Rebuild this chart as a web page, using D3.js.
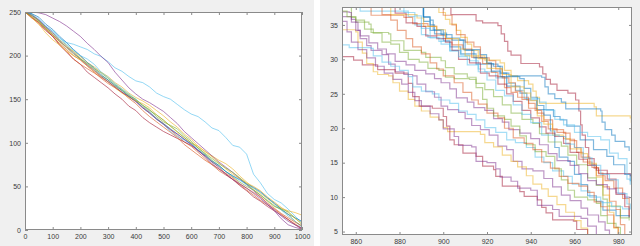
<!DOCTYPE html>
<html>
<head>
<meta charset="utf-8">
<script src="https://cdn.jsdelivr.net/npm/d3@7"></script>
<style>
	body { margin: 0; background: #fff; }
	svg { display: block; font-family: "Liberation Sans", Arial, sans-serif; }
</style>
</head>
<body>
<div id="chart"></div>
<script>
// MATLAB default line colours
const blue = "#0072BD", orange = "#D95319", yellow = "#EDB120", purple = "#7E2F8E",
	green = "#77AC30", lightBlue = "#4DBEEE", red = "#A2142F";

// ---- left panel: full run, value read every 25 steps ----
const leftX = [0, 25, 50, 75, 100, 125, 150, 175, 200, 225, 250, 275, 300, 325, 350, 375, 400, 425, 450, 475,
	500, 525, 550, 575, 600, 625, 650, 675, 700, 725, 750, 775, 800, 825, 850, 875, 900, 925, 950, 975, 1000];
const leftXTicks = [0, 100, 200, 300, 400, 500, 600, 700, 800, 900, 1000];
const leftYTicks = [0, 50, 100, 150, 200, 250];

const runBlueHigh = [250,248,240,233,228,220,215,213,210,207,202,199,193,186,182,176,171,169,164,157,153,150,144,138,133,130,124,117,114,106,97,95,87,64,54,42,35,31,24,16,8];
const runOrange1 = [250,244,236,229,222,214,207,200,195,188,181,174,168,163,158,153,148,141,135,128,122,115,108,101,96,89,82,75,68,63,58,52,46,40,34,29,24,18,12,7,2];
const runYellow1 = [250,247,240,231,224,216,210,205,199,192,187,181,176,169,164,157,152,148,143,137,131,124,118,110,104,96,90,85,80,76,70,62,55,48,42,36,30,25,22,20,17];
const runPurpleHigh = [250,250,249,247,243,239,234,228,222,214,207,199,192,181,172,163,156,150,146,141,136,129,122,113,106,99,92,85,78,72,66,59,52,45,38,30,22,13,6,3,1];
const runGreen1 = [250,246,240,232,226,218,212,204,197,190,184,177,172,165,160,154,150,143,138,130,124,120,116,108,102,94,87,80,74,67,61,55,50,46,40,34,28,23,18,10,4];
const runLightBlue1 = [250,247,242,234,228,220,213,206,200,196,190,181,175,168,162,156,150,142,136,128,121,113,107,103,98,91,85,78,73,67,62,57,52,48,43,37,30,23,16,10,3];
const runRedLow = [250,243,238,229,222,212,204,196,190,181,175,169,163,156,150,142,137,129,123,118,113,109,105,101,97,91,85,78,72,64,58,51,45,38,33,27,22,17,12,6,1];
const runBlue2 = [250,248,244,236,230,222,215,207,200,192,186,178,172,166,160,153,148,140,134,127,122,116,110,104,99,92,86,79,74,67,62,58,53,49,44,37,31,24,18,14,10];
const runOrange2 = [250,244,238,231,223,213,205,196,190,185,180,175,170,164,158,151,145,137,130,124,118,112,106,98,92,86,80,75,70,65,60,53,48,43,38,31,25,19,14,9,5];
const runYellow2 = [250,243,236,226,218,212,205,200,195,188,182,176,170,163,157,152,148,145,140,132,126,119,112,106,100,96,90,84,77,70,64,59,54,50,45,38,32,26,20,13,8];
const runPurple2 = [250,246,241,233,226,217,210,203,196,189,183,176,170,164,158,153,147,140,134,127,121,115,110,104,98,91,84,76,70,64,58,53,48,42,36,29,23,16,10,6,2];
const runGreen2 = [250,245,239,231,224,216,209,202,196,191,185,180,174,167,161,155,149,143,137,132,126,119,113,106,100,94,88,82,76,71,66,60,53,46,40,33,27,24,21,14,6];

const leftRuns = [
	[runBlueHigh, lightBlue], [runOrange1, orange], [runYellow1, yellow], [runPurpleHigh, purple],
	[runGreen1, green], [runLightBlue1, lightBlue], [runRedLow, red], [runBlue2, blue],
	[runOrange2, orange], [runYellow2, yellow], [runPurple2, purple], [runGreen2, green],
];

// ---- right panel: zoom on the tail, stair points [step, value] ----
const rightXTicks = [860, 880, 900, 920, 940, 960, 980];
const rightYTicks = [5, 10, 15, 20, 25, 30, 35];

const zRed1 = [[902,40],[903.5,36.5],[915,35.6],[918,35.3],[925,34.9],[926.5,33.7],[928,32.6],[929.5,31.2],[931,30.6],[935.5,29.4],[944,28.9],[945.5,27.9],[947,27.1],[949,26.4],[952,25.5],[957,25.1],[960.5,24.1],[962,22.5],[962.8,20.5],[963.5,19],[965,17.2],[966.5,15.6],[969,14.2],[971,13.4],[985.5,13.1],[990,12]];
const zYellow1 = [[896,40],[898,36.8],[901,35.8],[903,35.1],[906,34.2],[908,33.2],[911,32.2],[913,31.3],[916,30.5],[919,29.9],[926,29.5],[928,28.4],[931,27.6],[934,26.9],[939,26.4],[941,25.4],[942.5,24.5],[944,23.6],[969,23.1],[970,21.8],[985.5,21.5],[986,20.8]];
const zBlue1 = [[889,40],[891,36.1],[894,35],[896,33.7],[900,32.7],[903,31.8],[908,30.8],[915,29.3],[925,29.0],[927,28.0],[930,27.6],[945,27.4],[946.5,26.0],[948,25.0],[951,24.3],[954,23.8],[956,22.8],[972,22.5],[972.6,20.9],[974,19.8],[977,19.0],[978.6,18.1],[983,17.3],[985,16.7]];
const zBlue2 = [[889.3,40],[890.8,36.2],[893.9,35.7],[895.4,34.3],[900,33.8],[901.5,33.1],[907.6,32.8],[909.2,31.4],[916.8,30.7],[919.8,29.4],[922.9,29],[926,28],[929,26.1],[935.1,25.1],[938.2,24.1],[942.7,22.7],[950.4,21.7],[953.4,21.2],[956.5,20.3],[962.6,18.3],[968.7,16.9],[974.8,15.9],[977.9,14.7],[983,13.3],[985.5,12.3]];
const zLightBlue1 = [[858,40],[862,37.0],[884,36.2],[887,35],[890,33.6],[893,33.2],[898,32.6],[903,31.3],[908,30.6],[912,29.8],[916,28.6],[919,28.2],[924,27.3],[929,26.5],[933,25.5],[937,24.3],[944,23.8],[947,22.6],[951,21.3],[955,20.5],[960,19.4],[966,18.8],[972,18.3],[976,16.4],[980,15.6],[984,12.6],[985.5,11.8]];
const zOrange1 = [[865,40],[867,36.4],[882,36.1],[886,35.2],[893,34.8],[897,33.5],[901,33],[904,32.1],[909,31.5],[913,30.3],[918,29.4],[922,28.1],[925,27.5],[928,25.9],[931,25.2],[934,24.5],[939,23.6],[942,22.6],[945,21.0],[948,19.9],[952,19.4],[956,18.4],[960,17.2],[963,15.8],[967,14.7],[970,13.1],[974,12.4],[978,11.3],[982,9.8],[985,7.0]];
const zOrange2 = [[898,40],[900,36.4],[904,35],[906,33.6],[910,32.5],[914,31.8],[917,30.2],[921,29.8],[924,28.6],[927,27.3],[930,26.6],[933,25.4],[936,24.2],[939,22.9],[943,22.2],[946,21.2],[950,19.8],[955,19.3],[958,18.2],[961,16.5],[964,15.1],[968,14.3],[971,13.5],[973,11.5],[976,9.4],[979,8.2],[981,6.0],[983,3]];
const zBlue3 = [[889,40],[891,35.5],[894,34.2],[899,33.6],[904,32.8],[910,31.3],[914,30.2],[920,29.5],[922,28.3],[926,27.5],[935,27.2],[937,25.8],[940,24.5],[943,23.3],[946,21.9],[949,19.6],[951,17.2],[953,15.8],[957,15.2],[960,13.3],[963,11.8],[966,10.2],[970,9.4],[973,8.1],[979,7.3],[985,7.0]];
const zYellow2 = [[874,40],[876,36.5],[888,36.0],[891,34.8],[897,34.3],[901,33.0],[907,31.5],[910,30.5],[916,30.1],[920,28.7],[927,27.8],[931,26.0],[937,25.1],[940,24.0],[943,21.8],[946,20.6],[950,19.0],[955,18.5],[958,17.0],[963,16.3],[966,14.9],[970,12.9],[973,10.3],[976,7.8],[978,5.5],[980,3]];
const zGreen1 = [[850,40],[853,37.6],[858,36.1],[860,35.4],[866,35.1],[867,33.9],[875,33.7],[876,32.7],[882,31.3],[890,31.0],[892,30.3],[899,29.8],[901,28.8],[905,27.9],[911,27.4],[915,26.5],[919,25.6],[923,24.6],[927,23.4],[931,22.2],[936,21.3],[941,20.7],[944,19.2],[948,18.0],[954,17.4],[957,16.1],[961,14.7],[966,12.8],[970,11.7],[973,9.7],[975,8.7],[981,7.0],[985,6.6]];
const zPurple1 = [[850,36.9],[857,36.8],[858,35.4],[861,34.2],[862,33.0],[865,32.0],[867,31.3],[872,30.7],[875,29.3],[878,28.2],[882,27.8],[886,27.6],[888,26.4],[892,25.3],[896,24.5],[899,23.2],[902,22.7],[907,22.3],[910,21.4],[913,20.4],[917,19.8],[921,19.0],[925,17.4],[929,16.9],[932,15.2],[936,14.1],[941,13.8],[946,12.7],[950,11.5],[954,10.3],[958,9.5],[963,8.4],[966,7.4],[971,6.4],[974,5.2],[976,3]];
const zYellow3 = [[850,34.3],[860,34.0],[861,32.5],[863,30.9],[865,29.4],[868,28.2],[870,27.8],[875,27.6],[877,26.6],[880,25.4],[884,24.2],[887,23.2],[890,22.5],[894,21.6],[898,21.2],[900,20.1],[902,19.5],[917,19.1],[919,17.9],[923,17.3],[927,16.1],[931,15.2],[934,14.4],[938,13.1],[941,11.9],[945,11.2],[948,10.1],[952,8.9],[956,7.8],[960,6.6],[963,5.5],[966,3]];
const zRed2 = [[850,30.4],[859,29.9],[863,29.2],[870,28.5],[878,28.0],[884,26.5],[886,24.6],[889,23.2],[895,22.9],[900,21.7],[901.5,20.3],[903,18.3],[905,17.6],[909,16.4],[915,15.9],[918,14.5],[923,14.0],[924,13.0],[927,11.6],[935,10.8],[937,10.1],[943,9.6],[945,8.5],[947,7.7],[950,6.7],[959.5,6.5],[961,5.3],[966,3]];
const zLightBlue2 = [[850,32.1],[857,31.7],[867,31.6],[868,30.5],[872,29.6],[876,29.0],[880,28.4],[884,27.5],[886,26.0],[890,25.4],[895,25.0],[898,24.1],[903,23.6],[907,22.5],[911,22.0],[915,21.2],[919,20.1],[924,19.4],[929,18.3],[933,17.9],[938,17.2],[942,15.8],[946,15.0],[950,13.8],[955,13.0],[959,11.9],[963,10.9],[967,10.0],[972,9.2],[977,8.6],[982,8.3],[985,8.1]];
const zPurple2 = [[850,36.2],[858,35.8],[860,34.2],[862,33.4],[866,32.4],[870,31.5],[874,30.8],[878,29.7],[883,29.2],[887,28.4],[892,27.9],[896,27.2],[899,26.6],[903,25.7],[906,24.4],[911,23.8],[914,23.0],[919,22.6],[923,21.4],[927,20.9],[930,19.8],[935,19.3],[940,18.5],[944,17.6],[948,16.3],[952,15.3],[958,14.6],[962,13.4],[966,12.4],[970,11.8],[975,11.2],[979,10.6],[983,10.0],[985,9.9]];
const zGreen2 = [[850,37.0],[856,36.2],[860,35.7],[864,34.4],[868,33.8],[872,32.5],[876,32.2],[880,31.0],[884,30.0],[889,29.6],[893,28.7],[898,28.4],[901,27.4],[905,27.2],[912,27.1],[915,25.9],[918,24.2],[920,22.9],[923,21.8],[928,21.3],[931,20.3],[935,18.9],[938,17.6],[942,16.6],[947,15.9],[951,14.1],[954,12.5],[957,11.0],[960,10.0],[966,9.6],[970,9.1],[972,7.3],[975,6.2],[979,5.6],[981,3]];
const zRed3 = [[876,40],[878,36.7],[883,35.3],[888,34.8],[892,33.4],[897,33.0],[901,32.5],[904,31.3],[907,30.0],[912,29.5],[917,28.0],[921,27.6],[925,26.4],[929,25.0],[932,23.9],[936,22.6],[940,21.5],[944,20.2],[947,19.3],[951,18.8],[955,17.8],[958,16.5],[962,15.5],[966,14.6],[970,13.9],[975,12.6],[979,10.4],[983,8.6],[985,7.2]];
const zLightBlue3 = [[880,40],[882,36.8],[887,36.3],[890,34.5],[894,33.1],[899,32.2],[903,31.2],[907,30.4],[911,29.2],[916,28.2],[920,27.0],[924,25.5],[928,24.7],[932,23.4],[936,22.0],[940,20.8],[945,19.0],[953,18.8],[956,17.7],[960,17.2],[964,15.7],[968,14.6],[972,13.3],[976,12.5],[980,10.5],[984,9.0],[985.5,8.2]];
const zPurple3 = [[850,35.5],[856,34.0],[858,32.5],[861,31.4],[865,30.2],[869,29.0],[873,28.0],[877,27.1],[881,26.4],[884,25.2],[887,24.0],[890,23.2],[894,22.1],[898,21.2],[900,19.9],[905,18.8],[907,17.5],[913,17.3],[915,15.2],[920,15.0],[924,14.1],[926,12.9],[931,12.3],[934,11.3],[940,11.0],[943,8.8],[950,8.2],[953,7.2],[963,6.9],[966,5.8],[970,3]];
const zOrange3 = [[870,40],[872,36.5],[876,35.7],[879,34.2],[883,33.0],[886,31.8],[890,30.8],[894,29.5],[897,28.6],[900,27.6],[905,26.6],[909,25.2],[913,24.1],[916,23.5],[920,22.2],[925,21.5],[928,20.0],[932,18.6],[937,17.8],[941,16.9],[945,15.1],[949,14.2],[953,13.0],[957,12.0],[962,11.6],[966,10.7],[969,9.3],[972,8.6],[975,7.4],[978,5.6],[980,3]];

const rightRuns = [
	[zRed1, red], [zYellow1, yellow], [zBlue1, blue], [zBlue2, blue], [zLightBlue1, lightBlue],
	[zOrange1, orange], [zOrange2, orange], [zBlue3, blue], [zYellow2, yellow], [zGreen1, green],
	[zPurple1, purple], [zYellow3, yellow], [zRed2, red], [zLightBlue2, lightBlue], [zPurple2, purple],
	[zGreen2, green], [zRed3, red], [zLightBlue3, lightBlue], [zPurple3, purple], [zOrange3, orange],
];

const width = 640;
const height = 246;

const svg = d3.select("#chart").append("svg")
	.attr("width", width)
	.attr("height", height);

svg.append("rect").attr("width", width).attr("height", height).attr("fill", "#fff");

function drawPanel(p) {
	const g = svg.append("g");

	g.append("rect")
		.attr("x", p.left).attr("y", 0)
		.attr("width", p.right - p.left).attr("height", height)
		.attr("fill", "#f0f0f0");

	const x = d3.scaleLinear().domain(p.xDomain).range([p.box[0], p.box[1]]);
	const y = d3.scaleLinear().domain(p.yDomain).range([p.box[3], p.box[2]]);

	g.append("rect")
		.attr("x", p.box[0]).attr("y", p.box[2])
		.attr("width", p.box[1] - p.box[0]).attr("height", p.box[3] - p.box[2])
		.attr("fill", "#fff");

	g.append("clipPath").attr("id", p.id)
		.append("rect")
		.attr("x", p.box[0]).attr("y", p.box[2])
		.attr("width", p.box[1] - p.box[0]).attr("height", p.box[3] - p.box[2]);

	const lines = g.append("g").attr("clip-path", `url(#${p.id})`);
	for (const [pts, color] of p.runs) {
		lines.append("path")
			.datum(pts)
			.attr("fill", "none")
			.attr("stroke", color)
			.attr("stroke-opacity", p.opacity)
			.attr("stroke-width", p.lineWidth)
			.attr("d", d3.line().x((d) => x(d[0])).y((d) => y(d[1])).curve(p.curve));
	}

	const tick = 3;
	const fmt = d3.format("d");
	const styleAxis = (sel) => {
		sel.selectAll("line").attr("stroke", "#8a8a8a");
		sel.selectAll("text").attr("fill", "#3a3a3a").style("font-size", "7px");
		sel.select(".domain").remove();
	};

	g.append("g")
		.attr("transform", `translate(0,${p.box[3]})`)
		.call(d3.axisBottom(x).tickValues(p.xTicks).tickFormat(fmt).tickSizeInner(-tick).tickSizeOuter(0).tickPadding(4))
		.call(styleAxis);
	g.append("g")
		.attr("transform", `translate(0,${p.box[2]})`)
		.call(d3.axisTop(x).tickValues(p.xTicks).tickSizeInner(-tick).tickSizeOuter(0).tickFormat(""))
		.call(styleAxis);
	g.append("g")
		.attr("transform", `translate(${p.box[0]},0)`)
		.call(d3.axisLeft(y).tickValues(p.yTicks).tickFormat(fmt).tickSizeInner(-tick).tickSizeOuter(0).tickPadding(4))
		.call(styleAxis);
	g.append("g")
		.attr("transform", `translate(${p.box[1]},0)`)
		.call(d3.axisRight(y).tickValues(p.yTicks).tickSizeInner(-tick).tickSizeOuter(0).tickFormat(""))
		.call(styleAxis);

	g.append("rect")
		.attr("x", p.box[0] + 0.5).attr("y", p.box[2] + 0.5)
		.attr("width", p.box[1] - p.box[0] - 1).attr("height", p.box[3] - p.box[2] - 1)
		.attr("fill", "none")
		.attr("stroke", "#8a8a8a");
}

drawPanel({
	id: "clipLeft",
	left: 0, right: 314,
	box: [25, 302, 12, 230],
	xDomain: [0, 1000], yDomain: [0, 250],
	xTicks: leftXTicks, yTicks: leftYTicks,
	runs: leftRuns.map(([vals, color]) => [vals.map((v, i) => [leftX[i], v]), color]),
	curve: d3.curveLinear,
	lineWidth: 1,
	opacity: 0.6,
});

drawPanel({
	id: "clipRight",
	left: 320, right: 640,
	box: [342, 632, 7, 235],
	xDomain: [853.7, 986.3], yDomain: [4.5, 37.6],
	xTicks: rightXTicks, yTicks: rightYTicks,
	runs: rightRuns,
	curve: d3.curveStepAfter,
	lineWidth: 1.2,
	opacity: 0.5,
});
</script>
</body>
</html>
